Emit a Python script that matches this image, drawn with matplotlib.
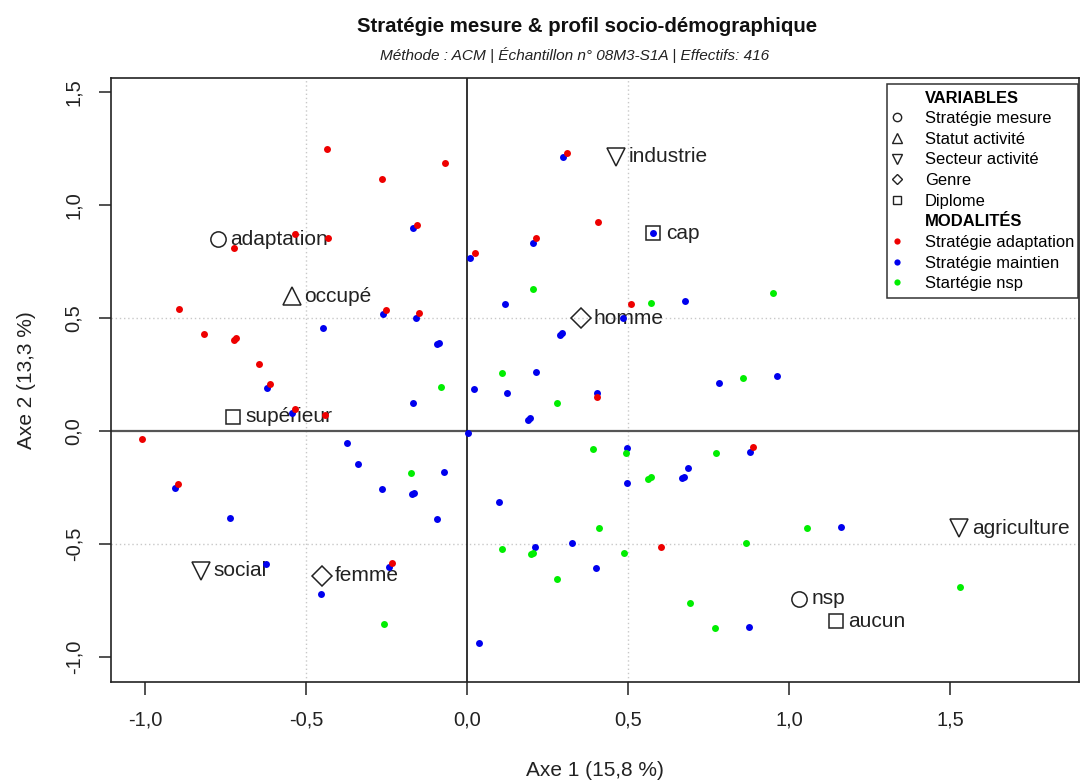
import matplotlib
matplotlib.use("Agg")
import matplotlib.pyplot as plt
from matplotlib.lines import Line2D

plt.rcParams['font.family'] = ['Liberation Sans', 'DejaVu Sans']

# modalites (variables actives)
mod_labels = ["adaptation", "nsp", "occupé", "industrie", "agriculture", "social",
              "homme", "femme", "cap", "supérieur", "aucun"]
mod_x = [-0.775, 1.032, -0.544, 0.463, 1.529, -0.826, 0.353, -0.451, 0.579, -0.726, 1.146]
mod_y = [0.848, -0.743, 0.597, 1.214, -0.431, -0.619, 0.500, -0.640, 0.875, 0.063, -0.841]
mod_var = ["mesure", "mesure", "statut", "secteur", "secteur", "secteur",
           "genre", "genre", "diplome", "diplome", "diplome"]

# individus par strategie
adapt_x = [-0.436, -0.265, -0.068, -0.156, 0.025, -0.534, -0.433, -0.723, -0.894, -0.252,
           -0.148, -0.817, -0.718, -0.725, -0.647, -0.612, -0.534, -0.441, 0.310, 0.406,
           0.214, 0.510, 0.403, -1.010, -0.897, -0.232, 0.888, 0.603]
adapt_y = [1.248, 1.114, 1.186, 0.912, 0.789, 0.872, 0.853, 0.808, 0.538, 0.535,
           0.521, 0.429, 0.412, 0.403, 0.295, 0.207, 0.096, 0.071, 1.231, 0.926,
           0.853, 0.563, 0.152, -0.035, -0.236, -0.585, -0.072, -0.515]

maint_x = [-0.167, 0.009, -0.262, -0.158, -0.449, -0.086, -0.092, -0.622, 0.023, -0.167,
           -0.544, 0.299, 0.579, 0.204, 0.118, 0.678, 0.484, 0.294, 0.289, 0.214,
           0.123, 0.405, 0.196, 0.190, 0.784, 0.962, -0.907, -0.736, -0.374, -0.339,
           -0.071, -0.263, -0.165, -0.170, -0.092, 0.004, -0.625, -0.242, -0.454, 0.037,
           0.498, 0.880, 0.687, 0.674, 0.669, 0.498, 0.100, 1.161, 0.325, 0.212,
           0.401, 0.877]
maint_y = [0.897, 0.764, 0.516, 0.501, 0.454, 0.391, 0.384, 0.189, 0.186, 0.122,
           0.081, 1.211, 0.875, 0.833, 0.563, 0.577, 0.500, 0.432, 0.427, 0.261,
           0.169, 0.169, 0.056, 0.049, 0.214, 0.243, -0.254, -0.386, -0.055, -0.146,
           -0.180, -0.257, -0.273, -0.280, -0.389, -0.010, -0.588, -0.603, -0.721, -0.937,
           -0.074, -0.091, -0.165, -0.202, -0.209, -0.229, -0.314, -0.423, -0.497, -0.515,
           -0.608, -0.866]

nsp_x = [-0.081, 0.206, 0.572, 0.951, 0.110, 0.280, 0.856, -0.175, -0.257, 0.392,
         0.493, 0.774, 0.570, 0.563, 0.411, 1.057, 0.107, 0.204, 0.199, 0.489,
         0.866, 0.279, 0.694, 0.770, 1.530]
nsp_y = [0.193, 0.630, 0.568, 0.612, 0.255, 0.122, 0.233, -0.184, -0.854, -0.081,
         -0.099, -0.096, -0.205, -0.214, -0.431, -0.431, -0.522, -0.541, -0.546, -0.538,
         -0.494, -0.655, -0.763, -0.873, -0.689]

x_ticks = [-1.0, -0.5, 0.0, 0.5, 1.0, 1.5]
y_ticks = [-1.0, -0.5, 0.0, 0.5, 1.0, 1.5]

var_marker = {"mesure": ("o", 11), "statut": ("^", 13), "secteur": ("v", 13),
              "genre": ("D", 10), "diplome": ("s", 10.5)}

fig = plt.figure(figsize=(10.8, 7.82), dpi=100)
ax = fig.add_axes([0.1028, 0.1283, 0.8963, 0.7716])
ax.set_xlim(-1.106, 1.901)
ax.set_ylim(-1.109, 1.561)

for v in (-0.5, 0.5):
    ax.axvline(v, color="#c8c8c8", lw=1, ls=(0, (1, 2)), zorder=0)
    ax.axhline(v, color="#c8c8c8", lw=1, ls=(0, (1, 2)), zorder=0)
ax.axhline(0, color="#555555", lw=1.6, zorder=1)
ax.axvline(0, color="#111111", lw=1.2, zorder=1)

for lab, x, y, var in zip(mod_labels, mod_x, mod_y, mod_var):
    m, ms = var_marker[var]
    ax.plot(x, y, marker=m, ms=ms, mfc="none", mec="#222222", mew=1.1, ls="none", zorder=2)
    ax.annotate(lab, (x, y), xytext=(9, 0), textcoords="offset points",
                va="center", ha="left", fontsize=15, color="#222222", zorder=2)

ax.plot(maint_x, maint_y, "o", ms=5, color="#0000ee", mec="none", zorder=3)
ax.plot(adapt_x, adapt_y, "o", ms=5, color="#ee0000", mec="none", zorder=3)
ax.plot(nsp_x, nsp_y, "o", ms=5, color="#00ee00", mec="none", zorder=3)

ax.set_xticks(x_ticks)
ax.set_yticks(y_ticks)
ax.set_xticklabels([f"{t:.1f}".replace(".", ",") for t in x_ticks])
ax.set_yticklabels([f"{t:.1f}".replace(".", ",") for t in y_ticks], rotation=90, va="center")
ax.tick_params(axis="both", direction="out", length=9, width=1.1, labelsize=14.5, colors="#222222")
ax.tick_params(axis="x", pad=12)
ax.tick_params(axis="y", pad=11)
for s in ax.spines.values():
    s.set_linewidth(1.2)
    s.set_color("#222222")

fig.text(0.551, 1 - 771 / 782, "Axe 1 (15,8 %)", ha="center", va="center", fontsize=15, color="#222222")
fig.text(26 / 1080, 0.514, "Axe 2 (13,3 %)", ha="center", va="center", rotation=90,
         fontsize=15, color="#222222")
fig.text(0.544, 1 - 27 / 782, "Stratégie mesure & profil socio-démographique",
         ha="center", va="center", fontsize=14.7, fontweight="bold", color="#111111")
fig.text(0.532, 1 - 55 / 782, "Méthode : ACM | Échantillon n° 08M3-S1A | Effectifs: 416",
         ha="center", va="center", fontsize=11.1, style="italic", color="#222222")

handles = [
    Line2D([], [], ls="none"),
    Line2D([], [], ls="none", marker="o", ms=6, mfc="none", mec="#222222"),
    Line2D([], [], ls="none", marker="^", ms=7, mfc="none", mec="#222222"),
    Line2D([], [], ls="none", marker="v", ms=7, mfc="none", mec="#222222"),
    Line2D([], [], ls="none", marker="D", ms=5.5, mfc="none", mec="#222222"),
    Line2D([], [], ls="none", marker="s", ms=6, mfc="none", mec="#222222"),
    Line2D([], [], ls="none"),
    Line2D([], [], ls="none", marker="o", ms=4.5, color="#ee0000", mec="none"),
    Line2D([], [], ls="none", marker="o", ms=4.5, color="#0000ee", mec="none"),
    Line2D([], [], ls="none", marker="o", ms=4.5, color="#00ee00", mec="none"),
]
labels = ["VARIABLES", "Stratégie mesure", "Statut activité", "Secteur activité", "Genre",
          "Diplome", "MODALITÉS", "Stratégie adaptation", "Stratégie maintien", "Startégie nsp"]
leg = ax.legend(handles, labels, loc="upper left", mode="expand",
                bbox_to_anchor=(887 / 1080, 1 - 84 / 782 - 0.3, 191 / 1080, 0.3),
                bbox_transform=fig.transFigure, borderaxespad=0, fontsize=11.9,
                handlelength=0.4, handletextpad=1.5, labelspacing=0.34, borderpad=0.4,
                fancybox=False, framealpha=1, edgecolor="#333333")
leg.get_frame().set_linewidth(1.1)
for i in (0, 6):
    leg.get_texts()[i].set_fontweight("bold")
leg.set_zorder(5)

fig.savefig("out.png", dpi=100)
